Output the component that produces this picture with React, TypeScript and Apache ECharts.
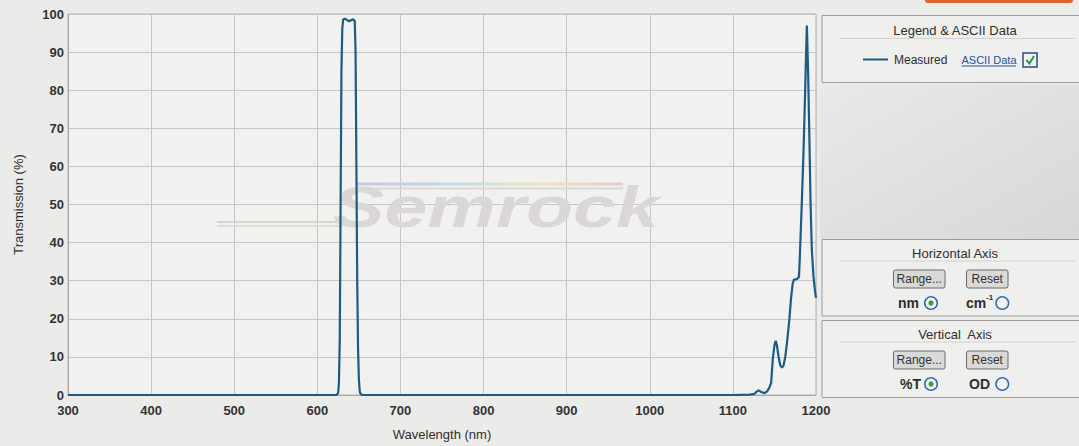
import React, { useEffect, useRef } from "react";
import * as echarts from "echarts";

const wavelengths = [
  300, 400, 500, 600, 620, 623, 625, 626, 627, 628, 629, 630, 631, 633, 636, 638, 640, 643, 645, 646,
  647, 648, 649, 650, 651, 652, 654, 700, 800, 900, 1000, 1100, 1120, 1126, 1128, 1131, 1134, 1138,
  1141, 1144, 1146, 1148, 1150, 1151.5, 1153, 1155, 1157, 1159, 1161, 1163, 1165, 1168, 1170, 1172,
  1173.5, 1177, 1179.5, 1180.5, 1183, 1185, 1187, 1188, 1189, 1190.5, 1192, 1193.5, 1195, 1197, 1199, 1200,
];
const transmission = [
  0, 0, 0, 0, 0, 0, 0.5, 3, 15, 50, 85, 96, 98.5, 98.8, 98.4, 98.1, 98.3, 98.6, 98.2, 90,
  60, 30, 12, 4, 1, 0.3, 0, 0, 0, 0, 0, 0, 0.1, 0.3, 0.8, 1.2, 0.8, 0.5,
  0.9, 2, 3.2, 9.4, 13, 14.2, 13, 10, 7.8, 7.2, 7.8, 10, 13.5, 20, 25.5, 29.3,
  30.3, 30.4, 31, 36, 51, 64, 80, 89, 97, 85, 68, 50, 38, 31, 27, 25.5,
];

const xTicks = [300, 400, 500, 600, 700, 800, 900, 1000, 1100, 1200];
const yTicks = [0, 10, 20, 30, 40, 50, 60, 70, 80, 90, 100];

const FONT = "'Liberation Sans', Arial, sans-serif";
const TXT = "#2e2e2e";

function button(x: number, y: number, w: number, h: number, label: string) {
  return [
    {
      type: "rect",
      shape: { x, y, width: w, height: h, r: 2 },
      style: { fill: "#d9d9d8", stroke: "#6a6a6a", lineWidth: 1 },
      z: 10,
    },
    {
      type: "text",
      x: x + w / 2,
      y: y + h / 2,
      style: { text: label, font: `12px ${FONT}`, fill: "#333", align: "center", verticalAlign: "middle" },
      z: 11,
    },
  ];
}

function radio(cx: number, cy: number, on: boolean) {
  const els: any[] = [
    {
      type: "circle",
      shape: { cx, cy, r: 6.3 },
      style: { fill: "#f4f4f4", stroke: "#2f6db0", lineWidth: 1.5 },
      z: 10,
    },
  ];
  if (on) {
    els.push({ type: "circle", shape: { cx, cy, r: 2.6 }, style: { fill: "#3a9a44" }, z: 11 });
  }
  return els;
}

function label(x: number, y: number, text: string, size: number, weight: string, align = "left") {
  return {
    type: "text",
    x,
    y,
    style: { text, font: `${weight} ${size}px ${FONT}`, fill: TXT, align, verticalAlign: "middle" },
    z: 11,
  };
}

export default function App() {
  const ref = useRef<HTMLDivElement>(null);
  useEffect(() => {
    document.body.style.margin = "0";
    const chart = echarts.init(ref.current!, null, { renderer: "svg" });
    const data = wavelengths.map((w, i) => [w, transmission[i]]);

    const graphic: any[] = [
      // orange button at top
      {
        type: "rect",
        shape: { x: 925, y: -10, width: 148, height: 13, r: 3 },
        style: { fill: "#e0622e" },
        z: 10,
      },
      // watermark
      {
        type: "rect",
        shape: { x: 357, y: 182.5, width: 266, height: 3 },
        style: {
          fill: new echarts.graphic.LinearGradient(0, 0, 1, 0, [
            { offset: 0, color: "#c9c6e0" },
            { offset: 0.35, color: "#c6d8e6" },
            { offset: 0.55, color: "#d6e6c6" },
            { offset: 0.7, color: "#ebe3c0" },
            { offset: 1, color: "#e9cccc" },
          ]),
        },
        z: 1,
      },
      {
        type: "rect",
        shape: { x: 357, y: 187.5, width: 266, height: 2 },
        style: { fill: "#e0d6d6" },
        z: 1,
      },
      {
        type: "rect",
        shape: { x: 217, y: 221, width: 123, height: 2 },
        style: { fill: "#ddd1d1" },
        z: 1,
      },
      {
        type: "rect",
        shape: { x: 217, y: 225, width: 123, height: 2 },
        style: { fill: "#e2d9d9" },
        z: 1,
      },
      {
        type: "text",
        x: 333,
        y: 207,
        scaleX: 1.33,
        style: {
          text: "Semrock",
          font: `italic bold 58px ${FONT}`,
          fill: "#dcd7d7",
          align: "left",
          verticalAlign: "middle",
        },
        z: 1,
      },
      // gray area below legend
      {
        type: "rect",
        shape: { x: 820, y: 84, width: 270, height: 155 },
        style: {
          fill: new echarts.graphic.LinearGradient(0, 0, 1, 1, [
            { offset: 0, color: "#e9e9e7" },
            { offset: 1, color: "#d8d7d7" },
          ]),
        },
        z: 5,
      },
      // legend panel
      {
        type: "rect",
        shape: { x: 822, y: 15.5, width: 270, height: 67 },
        style: { fill: "#efefed", stroke: "#9c9c9c", lineWidth: 1 },
        z: 6,
      },
      {
        type: "line",
        shape: { x1: 840, y1: 38.5, x2: 1075, y2: 38.5 },
        style: { stroke: "#d2d2d0", lineWidth: 1 },
        z: 7,
      },
      label(955, 30, "Legend & ASCII Data", 13, "normal", "center"),
      {
        type: "line",
        shape: { x1: 863, y1: 59.5, x2: 888, y2: 59.5 },
        style: { stroke: "#1d5b87", lineWidth: 2 },
        z: 11,
      },
      label(894, 60, "Measured", 12, "normal"),
      {
        type: "text",
        x: 961.5,
        y: 60,
        style: { text: "ASCII Data", font: `11px ${FONT}`, fill: "#2a4fa5", align: "left", verticalAlign: "middle" },
        z: 11,
      },
      {
        type: "line",
        shape: { x1: 961.5, y1: 66, x2: 1016, y2: 66 },
        style: { stroke: "#2a4fa5", lineWidth: 1 },
        z: 11,
      },
      {
        type: "rect",
        shape: { x: 1023, y: 53, width: 14, height: 14 },
        style: { fill: "#eef2f4", stroke: "#2b4f7a", lineWidth: 1.5 },
        z: 10,
      },
      {
        type: "polyline",
        shape: { points: [[1026.5, 60], [1029.5, 63.5], [1034, 56]] },
        style: { stroke: "#2e9a3c", lineWidth: 2, fill: null },
        z: 11,
      },
      // horizontal axis panel
      {
        type: "rect",
        shape: { x: 822, y: 239.5, width: 270, height: 76.5 },
        style: { fill: "#efefed", stroke: "#9c9c9c", lineWidth: 1 },
        z: 6,
      },
      {
        type: "line",
        shape: { x1: 840, y1: 261, x2: 1075, y2: 261 },
        style: { stroke: "#d2d2d0", lineWidth: 1 },
        z: 7,
      },
      label(955, 253.5, "Horizontal Axis", 13, "normal", "center"),
      ...button(893.5, 270, 51.5, 18, "Range..."),
      ...button(966.5, 270, 41.5, 18, "Reset"),
      label(898, 303, "nm", 14, "bold"),
      ...radio(931, 303, true),
      label(966, 303, "cm", 14, "bold"),
      {
        type: "text",
        x: 986,
        y: 297,
        style: { text: "-1", font: `bold 8px ${FONT}`, fill: TXT, align: "left", verticalAlign: "middle" },
        z: 11,
      },
      ...radio(1002.3, 303, false),
      // vertical axis panel
      {
        type: "rect",
        shape: { x: 822, y: 320.5, width: 270, height: 77 },
        style: { fill: "#efefed", stroke: "#9c9c9c", lineWidth: 1 },
        z: 6,
      },
      {
        type: "line",
        shape: { x1: 840, y1: 342, x2: 1075, y2: 342 },
        style: { stroke: "#d2d2d0", lineWidth: 1 },
        z: 7,
      },
      label(955, 334, "Vertical  Axis", 13, "normal", "center"),
      ...button(893.5, 351, 51.5, 18, "Range..."),
      ...button(966.5, 351, 41.5, 18, "Reset"),
      label(900, 384, "%T", 14, "bold"),
      ...radio(931, 384, true),
      label(969, 384, "OD", 14, "bold"),
      ...radio(1002.3, 384, false),
    ];

    chart.setOption({
      animation: false,
      backgroundColor: "#ebebe9",
      textStyle: { fontFamily: FONT },
      grid: {
        left: 68,
        top: 14,
        width: 748,
        height: 382,
        show: true,
        backgroundColor: "#f1f1ef",
        borderColor: "#b0b0b0",
        borderWidth: 1,
      },
      xAxis: {
        type: "value",
        min: xTicks[0],
        max: xTicks[xTicks.length - 1],
        interval: 100,
        name: "Wavelength (nm)",
        nameLocation: "middle",
        nameGap: 33,
        nameTextStyle: { fontSize: 13, color: TXT, fontFamily: FONT },
        axisLine: { show: true, lineStyle: { color: "#a8a8a8", width: 1 } },
        axisTick: { show: false },
        axisLabel: {
          fontSize: 13,
          fontWeight: "bold",
          color: "#333",
          margin: 9,
          fontFamily: FONT,
          formatter: (v: number) => String(v),
        },
        splitLine: { show: true, lineStyle: { color: "#c6c6c6", width: 1 } },
      },
      yAxis: {
        type: "value",
        min: yTicks[0],
        max: yTicks[yTicks.length - 1],
        interval: 10,
        name: "Transmission (%)",
        nameLocation: "middle",
        nameGap: 43,
        nameTextStyle: { fontSize: 13, color: TXT, fontFamily: FONT },
        axisLine: { show: true, lineStyle: { color: "#a8a8a8", width: 1 } },
        axisTick: { show: false },
        axisLabel: {
          fontSize: 13,
          fontWeight: "bold",
          color: "#333",
          margin: 4,
          fontFamily: FONT,
          formatter: (v: number) => String(v),
        },
        splitLine: { show: true, lineStyle: { color: "#c6c6c6", width: 1 } },
      },
      series: [
        {
          name: "Measured",
          type: "line",
          data,
          showSymbol: false,
          smooth: false,
          lineStyle: { color: "#1d5b87", width: 2.2 },
          z: 3,
        },
      ],
      graphic,
    });
    return () => chart.dispose();
  }, []);
  return (
    <div
      ref={ref}
      style={{ position: "absolute", left: 0, top: 0, width: 1079, height: 446 }}
    />
  );
}
